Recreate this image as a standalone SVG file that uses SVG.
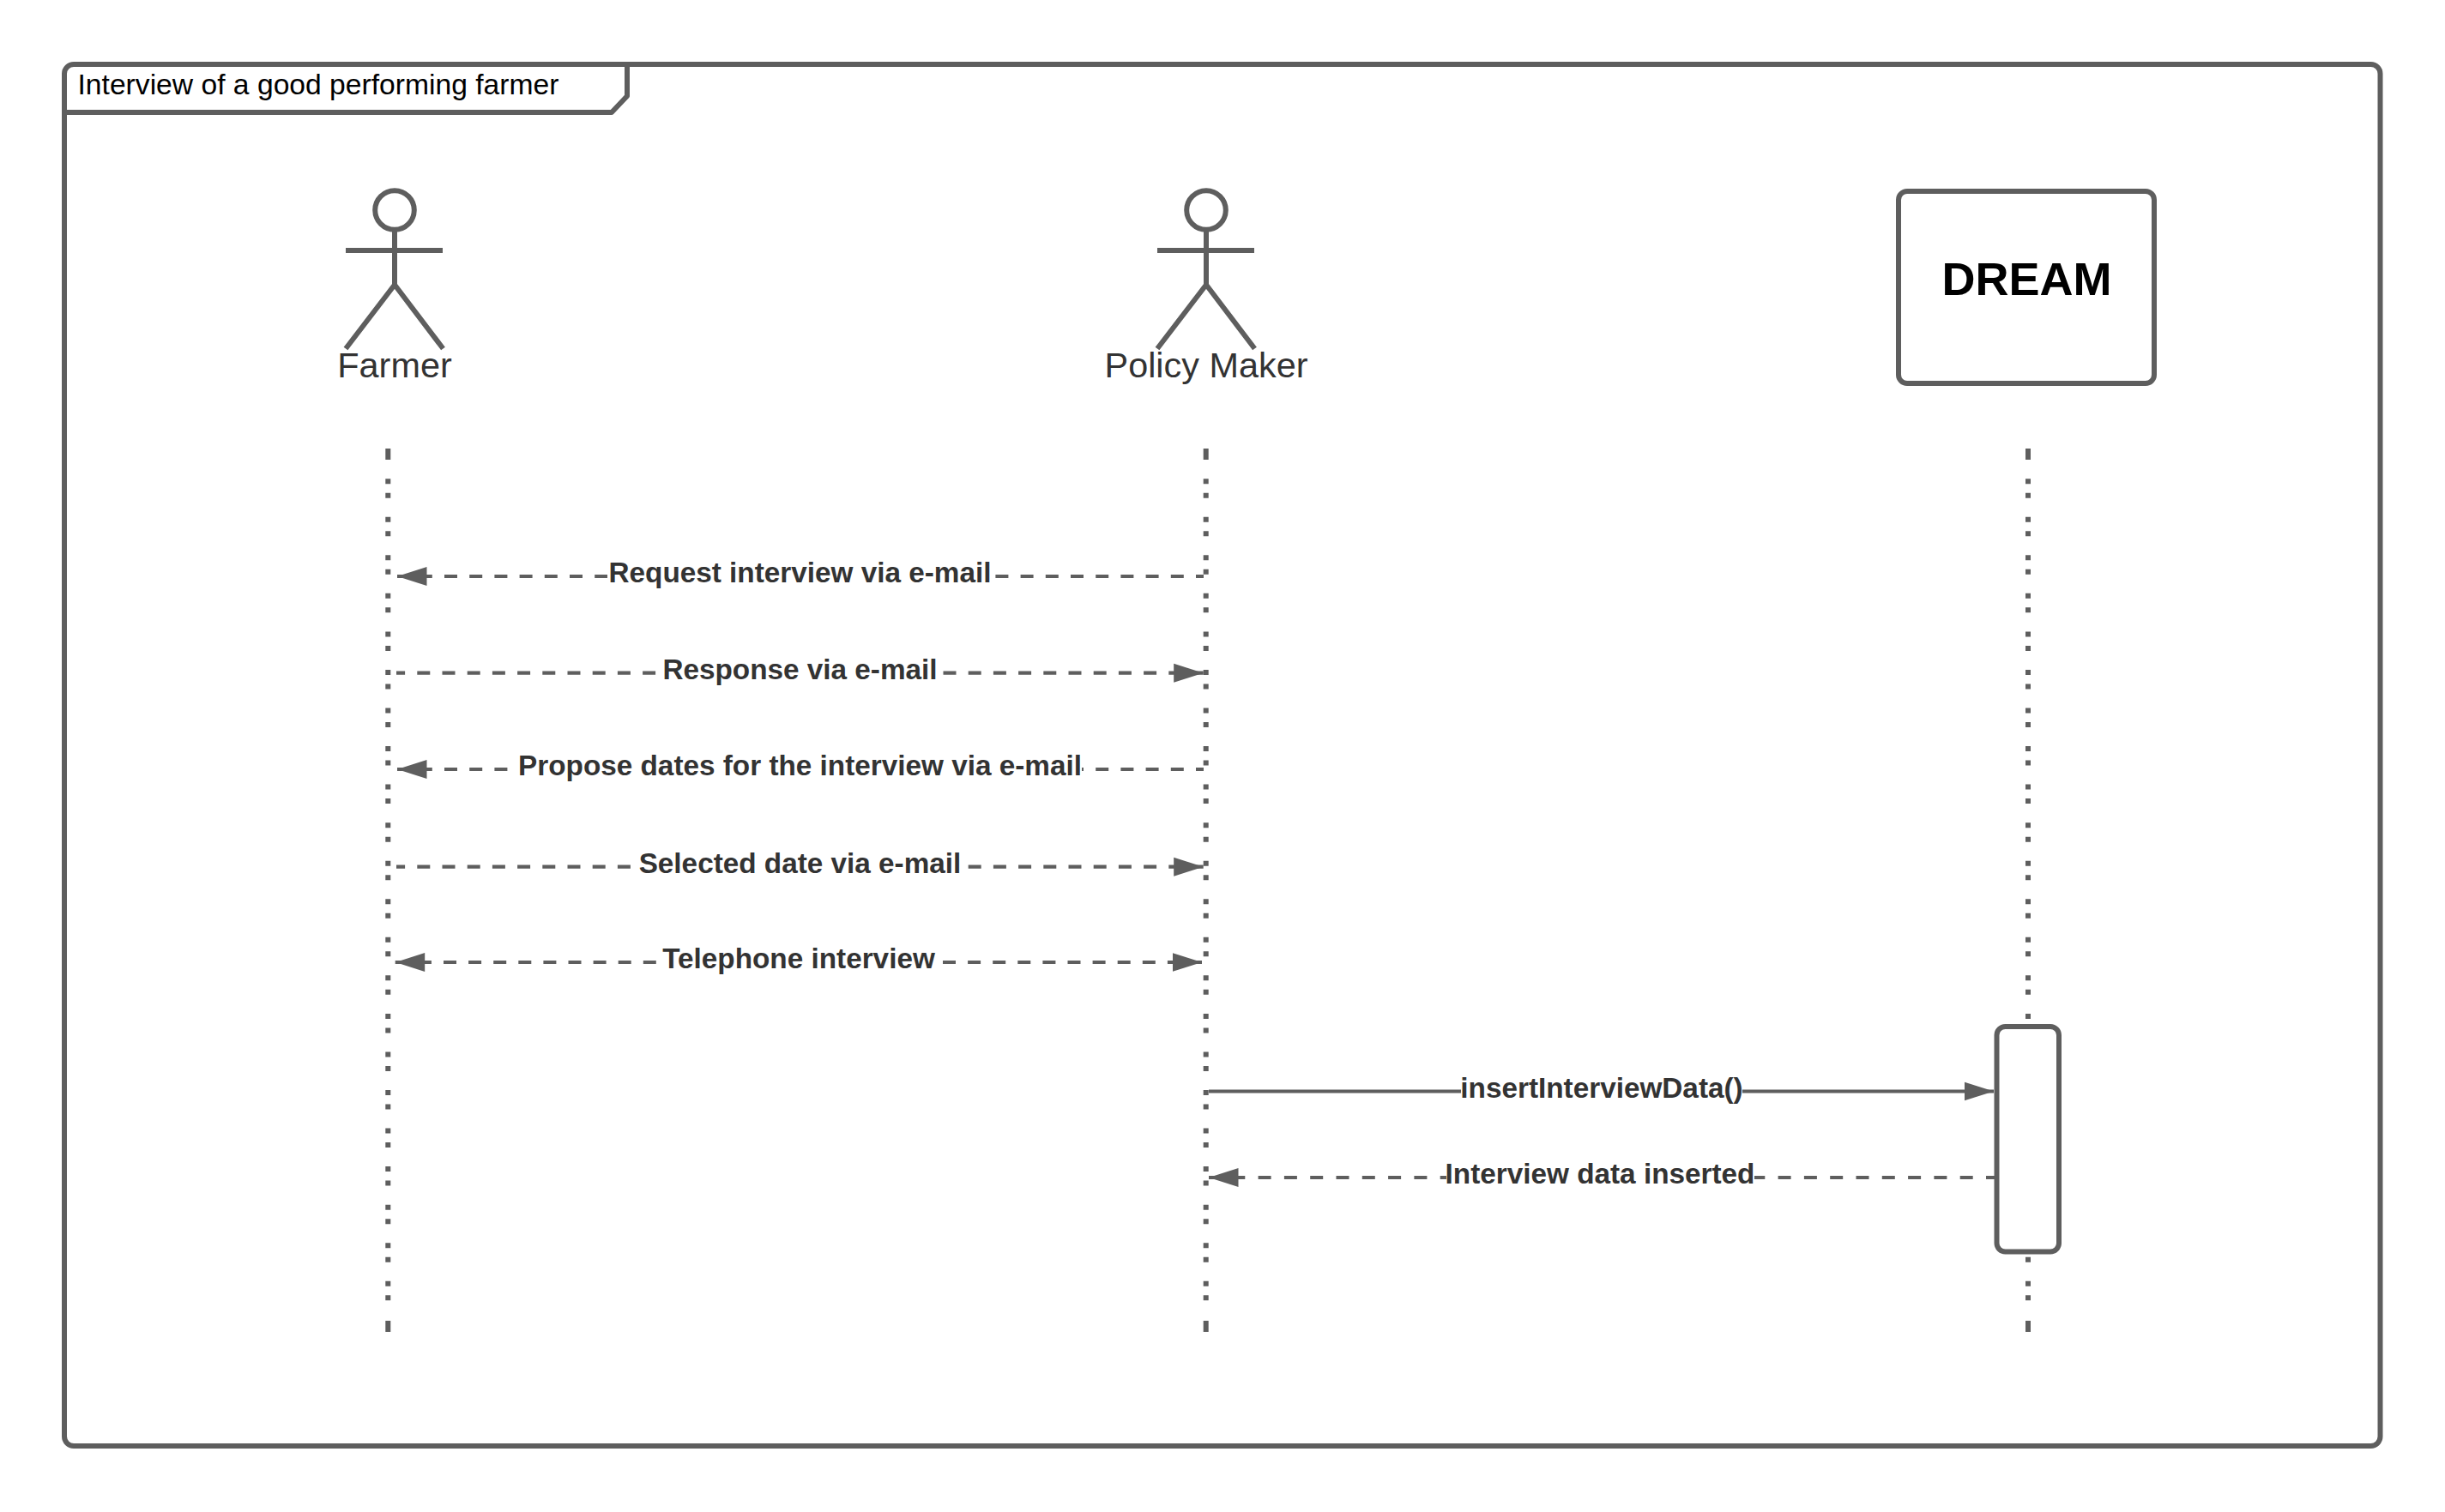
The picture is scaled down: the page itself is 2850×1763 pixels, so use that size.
<svg xmlns="http://www.w3.org/2000/svg" width="2850" height="1763" viewBox="0 0 2850 1763">
<style>
.s{fill:none;stroke:#5e5e5e;stroke-width:6;stroke-linejoin:round}
.b{fill:#fff;stroke:#5e5e5e;stroke-width:6}
.life{fill:none;stroke:#5e5e5e;stroke-width:6;stroke-dasharray:6 10.5 6 22.05}
.cap{fill:none;stroke:#5e5e5e;stroke-width:6}
.m{fill:none;stroke:#5e5e5e;stroke-width:4.2}
.d{stroke-dasharray:15 14.2}
.l{font-family:"Liberation Sans",Arial,sans-serif;font-size:33.3px;font-weight:700;fill:#333;text-anchor:middle}
.n{font-family:"Liberation Sans",Arial,sans-serif;font-size:41.4px;fill:#333;text-anchor:middle}
.w{fill:#fff}
</style>
<defs>
<marker id="end" markerUnits="userSpaceOnUse" markerWidth="36" markerHeight="24" refX="34.5" refY="12" orient="auto"><path d="M0 1L34.5 12L0 23Z" fill="#5e5e5e"/></marker>
<marker id="start" markerUnits="userSpaceOnUse" markerWidth="36" markerHeight="24" refX="0" refY="12" orient="auto"><path d="M34.5 1L0 12L34.5 23Z" fill="#5e5e5e"/></marker>
</defs>
<rect width="2850" height="1763" fill="#fff"/>
<g id="frame">
<rect class="s" x="75" y="75" width="2699.5" height="1611" rx="11"/>
<path class="s" d="M75 131H713L731 112V75"/>
<text x="90.5" y="110" font-family="'Liberation Sans',Arial,sans-serif" font-size="33.65" fill="#000">Interview of a good performing farmer</text>
</g>
<g id="farmer">
<circle class="s" cx="460" cy="245" r="22.8"/>
<path class="s" d="M460 268V332M403 292H516M403 406.5L460 332L516.5 406.5"/>
<text class="n" x="460" y="440">Farmer</text>
</g>
<g id="policy-maker">
<circle class="s" cx="1406" cy="245" r="22.8"/>
<path class="s" d="M1406 268V332M1349 292H1462M1349 406.5L1406 332L1462.5 406.5"/>
<text class="n" x="1406" y="440">Policy Maker</text>
</g>
<g id="dream">
<rect class="s" x="2213" y="223" width="298" height="224" rx="10"/>
<text x="2362.5" y="344" font-family="'Liberation Sans',Arial,sans-serif" font-size="54" font-weight="700" fill="#000" text-anchor="middle">DREAM</text>
</g>
<g id="lifelines">
<g id="lifeline-farmer"><path class="cap" d="M452.3 523V536M452.3 1540V1553"/><path class="life" d="M452.3 558.2V1520"/></g>
<g id="lifeline-policy"><path class="cap" d="M1405.7 523V536M1405.7 1540V1553"/><path class="life" d="M1405.7 558.2V1520"/></g>
<g id="lifeline-dream"><path class="cap" d="M2364 523V536M2364 1540V1553"/><path class="life" d="M2364 558.2V1520"/></g>
</g>
<g id="connectors">
<path class="m d" stroke-dashoffset="6" d="M1403 672H463" marker-end="url(#end)"/>
<path class="m d" stroke-dashoffset="4.9" d="M462 784.7H1402.7" marker-end="url(#end)"/>
<path class="m d" stroke-dashoffset="6" d="M1403 897H463" marker-end="url(#end)"/>
<path class="m d" stroke-dashoffset="4.9" d="M462 1010.7H1402.7" marker-end="url(#end)"/>
<path class="m" stroke-dasharray="15 14.1" stroke-dashoffset="1.9" d="M460.7 1122H1401" marker-start="url(#start)" marker-end="url(#end)"/>
<path class="m" d="M1409 1272.5H2324" marker-end="url(#end)"/>
<path class="m" stroke-dasharray="15 15.3" d="M2330 1373H1409" marker-end="url(#end)"/>
</g>
<g id="activation"><rect class="b" x="2327.5" y="1197" width="72.5" height="262.5" rx="10"/></g>
<g id="labels">
<rect class="w" x="708" y="650" width="450" height="44"/><text class="l" x="932.5" y="679">Request interview via e-mail</text>
<rect class="w" x="765" y="763" width="334" height="44"/><text class="l" x="932.5" y="791.5">Response via e-mail</text>
<rect class="w" x="596" y="875" width="665" height="44"/><text class="l" x="932.5" y="904">Propose dates for the interview via e-mail</text>
<rect class="w" x="736" y="989" width="391" height="44"/><text class="l" x="932.5" y="1017.5">Selected date via e-mail</text>
<rect class="w" x="765" y="1100" width="332" height="44"/><text class="l" x="931" y="1129">Telephone interview</text>
<rect class="w" x="1703" y="1251" width="328" height="44"/><text class="l" x="1867" y="1279.5">insertInterviewData()</text>
<rect class="w" x="1686" y="1352" width="359" height="44"/><text class="l" x="1865" y="1379.5">Interview data inserted</text>
</g>
</svg>
